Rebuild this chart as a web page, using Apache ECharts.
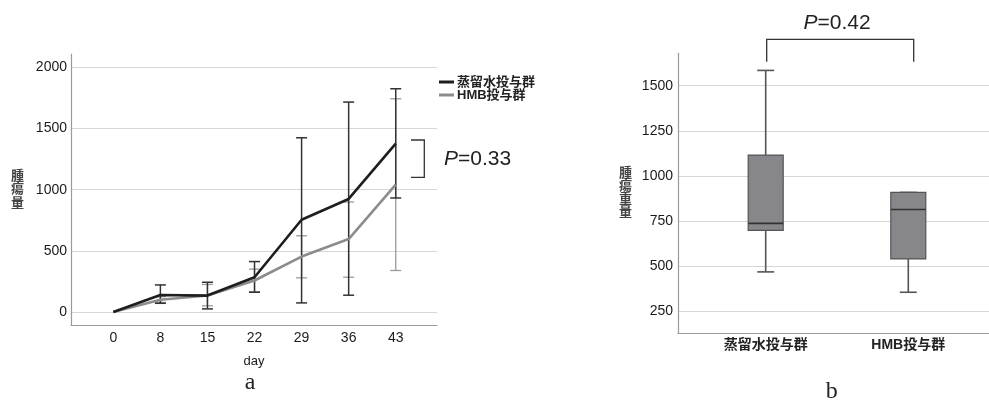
<!DOCTYPE html>
<html><head><meta charset="utf-8">
<script src="https://cdn.jsdelivr.net/npm/echarts@6/dist/echarts.min.js"></script>
<style>html,body{margin:0;padding:0;background:#fff}#c{width:989px;height:402px}</style>
</head><body><div id="c"></div>
<script>
// ---- data (panel a) ----
const days = ['0','8','15','22','29','36','43'];
const seriesNames = ['蒸留水投与群','HMB投与群'];
const waterMean  = [0,139,134,284,754,924,1377];
const waterUpper = [null,221,243,412,1424,1716,1825];
const waterLower = [null,71,25,161,74,137,932];
const hmbMean  = [0,100,134,257,453,596,1041];
const hmbUpper = [null,125,225,350,623,899,1743];
const hmbLower = [null,78,50,166,279,284,339];
const leftTicks = [0,500,1000,1500,2000];
// ---- data (panel b) ----
const groups = ['蒸留水投与群','HMB投与群'];
const boxMin = [467,354];
const boxQ1 = [697,539];
const boxMedian = [736,813];
const boxQ3 = [1115,908];
const boxMax = [1585,908];
const rightTicks = [250,500,750,1000,1250,1500];

const FONT = '"Liberation Sans", Arial, "Noto Sans CJK JP", sans-serif';
const chart = echarts.init(document.getElementById('c'));

function errData(lo, hi){
  const out = [];
  for (let i=0;i<lo.length;i++){ if (lo[i]!=null) out.push([i, lo[i], hi[i]]); }
  return out;
}
function errSeries(lo, hi, color, w){
  return {
    type:'custom', xAxisIndex:0, yAxisIndex:0, silent:true, z:3,
    data: errData(lo, hi), encode:{x:0, y:[1,2]},
    renderItem(params, api){
      const i = api.value(0);
      const a = api.coord([i, api.value(1)]), b = api.coord([i, api.value(2)]);
      const hw = 5.5;
      const st = {stroke: color, lineWidth: w};
      return {type:'group', children:[
        {type:'line', shape:{x1:a[0],y1:a[1],x2:b[0],y2:b[1]}, style:st},
        {type:'line', shape:{x1:a[0]-hw,y1:a[1],x2:a[0]+hw,y2:a[1]}, style:st},
        {type:'line', shape:{x1:b[0]-hw,y1:b[1],x2:b[0]+hw,y2:b[1]}, style:st}
      ]};
    }
  };
}
const boxData = groups.map((g,i)=>[i, boxMin[i], boxQ1[i], boxMedian[i], boxQ3[i], boxMax[i]]);

const axisLineStyle = {color:'#9a9a9a', width:1.2};
const gridLine = {lineStyle:{color:'#d6d6d6', width:1.2}};
const plain = v => String(v);

chart.setOption({
  animation:false,
  textStyle:{fontFamily:FONT},
  grid:[
    {left:71, right:552, top:54, bottom:76.7},
    {left:678, right:0, top:53.3, bottom:68.7}
  ],
  xAxis:[
    {type:'value', gridIndex:0, min:-0.899, max:6.877,
     axisLine:{show:true, onZero:false, lineStyle:axisLineStyle},
     axisTick:{show:false, customValues:[0,1,2,3,4,5,6]},
     splitLine:{show:false},
     axisLabel:{customValues:[0,1,2,3,4,5,6], formatter:v=>days[Math.round(v)], color:'#1a1a1a', fontSize:14, margin:6, fontFamily:FONT},
     name:'day', nameLocation:'middle', nameGap:30, nameTextStyle:{color:'#1a1a1a', fontSize:13, fontFamily:FONT}
    },
    {type:'value', gridIndex:1, min:-0.615, max:1.566,
     axisLine:{show:true, onZero:false, lineStyle:axisLineStyle},
     axisTick:{show:false, customValues:[0,1]},
     splitLine:{show:false},
     axisLabel:{customValues:[0,1], formatter:v=>groups[Math.round(v)], color:'#222', fontSize:14, fontWeight:'bold', margin:5, fontFamily:FONT}
    }
  ],
  yAxis:[
    {type:'value', gridIndex:0, min:-109, max:2109,
     axisLine:{show:true, onZero:false, lineStyle:axisLineStyle},
     axisTick:{show:false, customValues:leftTicks},
     splitLine:Object.assign({show:true}, gridLine),
     axisLabel:{customValues:leftTicks, formatter:plain, color:'#1a1a1a', fontSize:14, margin:4, fontFamily:FONT}
    },
    {type:'value', gridIndex:1, min:126.3, max:1680,
     axisLine:{show:true, onZero:false, lineStyle:axisLineStyle},
     axisTick:{show:false, customValues:rightTicks},
     splitLine:Object.assign({show:true}, gridLine),
     axisLabel:{customValues:rightTicks, formatter:plain, color:'#1a1a1a', fontSize:14, margin:5, fontFamily:FONT}
    }
  ],
  legend:{
    data:seriesNames, left:439, top:75.5, orient:'vertical', icon:'rect',
    itemWidth:15, itemHeight:3, itemGap:0, padding:0,
    textStyle:{fontSize:13, lineHeight:12.3, color:'#222', fontWeight:'bold', fontFamily:FONT, padding:[0,0,0,-2]}
  },
  series:[
    errSeries(hmbLower, hmbUpper, '#9a9a9a', 1.3),
    errSeries(waterLower, waterUpper, '#333', 1.5),
    {name:seriesNames[1], type:'line', xAxisIndex:0, yAxisIndex:0, z:4,
     data: hmbMean.map((v,i)=>[i,v]), showSymbol:false, symbol:'none',
     lineStyle:{color:'#8c8c8c', width:2.6}, itemStyle:{color:'#8c8c8c'}},
    {name:seriesNames[0], type:'line', xAxisIndex:0, yAxisIndex:0, z:5,
     data: waterMean.map((v,i)=>[i,v]), showSymbol:false, symbol:'none',
     lineStyle:{color:'#1e1e1e', width:2.6}, itemStyle:{color:'#1e1e1e'}},
    {type:'custom', xAxisIndex:1, yAxisIndex:1, silent:true, data: boxData,
     encode:{x:0, y:[1,2,3,4,5]},
     renderItem(params, api){
       const i = api.value(0);
       const pMin = api.coord([i, api.value(1)]);
       const pQ1 = api.coord([i, api.value(2)]);
       const pMed = api.coord([i, api.value(3)]);
       const pQ3 = api.coord([i, api.value(4)]);
       const pMax = api.coord([i, api.value(5)]);
       const x = pQ1[0], hw = 17.5, cw = 8.5;
       const ws = {stroke:'#555', lineWidth:1.6};
       return {type:'group', children:[
         {type:'line', shape:{x1:x,y1:pQ3[1],x2:x,y2:pMax[1]}, style:ws},
         {type:'line', shape:{x1:x,y1:pQ1[1],x2:x,y2:pMin[1]}, style:ws},
         {type:'line', shape:{x1:x-cw,y1:pMax[1],x2:x+cw,y2:pMax[1]}, style:ws},
         {type:'line', shape:{x1:x-cw,y1:pMin[1],x2:x+cw,y2:pMin[1]}, style:ws},
         {type:'rect', shape:{x:x-hw, y:pQ3[1], width:2*hw, height:pQ1[1]-pQ3[1]},
          style:{fill:'#87878b', stroke:'#555', lineWidth:1.2}},
         {type:'line', shape:{x1:x-hw,y1:pMed[1],x2:x+hw,y2:pMed[1]}, style:{stroke:'#333', lineWidth:1.6}}
       ]};
     }
    }
  ],
  graphic:[
    {type:'text', left:11, top:168, style:{text:'腫\n瘍\n量', fontSize:13, lineHeight:13.5, fill:'#444', fontWeight:'bold', fontFamily:'"Noto Sans CJK JP", sans-serif'}},
    {type:'text', left:619, top:166, style:{text:'腫\n瘍\n重\n量', fontSize:13, lineHeight:13, fill:'#444', fontWeight:'bold', fontFamily:'"Noto Sans CJK JP", sans-serif'}},
    {type:'polyline', shape:{points:[[411,140],[424.3,140],[424.3,177.3],[411,177.3]]}, style:{stroke:'#333', lineWidth:1.3, fill:null}},
    {type:'text', x:444, y:159, style:{text:'{i|P}=0.33', verticalAlign:'middle', fontSize:21, fill:'#222', fontFamily:FONT,
      rich:{i:{fontStyle:'italic', fontSize:21, fontFamily:FONT}}}},
    {type:'polyline', shape:{points:[[766.7,61.7],[766.7,39.3],[913.7,39.3],[913.7,61.7]]}, style:{stroke:'#333', lineWidth:1.3, fill:null}},
    {type:'text', x:837, y:23.3, style:{text:'{i|P}=0.42', align:'center', verticalAlign:'middle', fontSize:21, fill:'#222', fontFamily:FONT,
      rich:{i:{fontStyle:'italic', fontSize:21, fontFamily:FONT}}}},
    {type:'text', x:250, y:383, style:{text:'a', align:'center', verticalAlign:'middle', fontSize:24, fill:'#222', fontFamily:'"Liberation Serif", "DejaVu Serif", serif'}},
    {type:'text', x:831.7, y:392, style:{text:'b', align:'center', verticalAlign:'middle', fontSize:24, fill:'#222', fontFamily:'"Liberation Serif", "DejaVu Serif", serif'}}
  ]
});
</script></body></html>
